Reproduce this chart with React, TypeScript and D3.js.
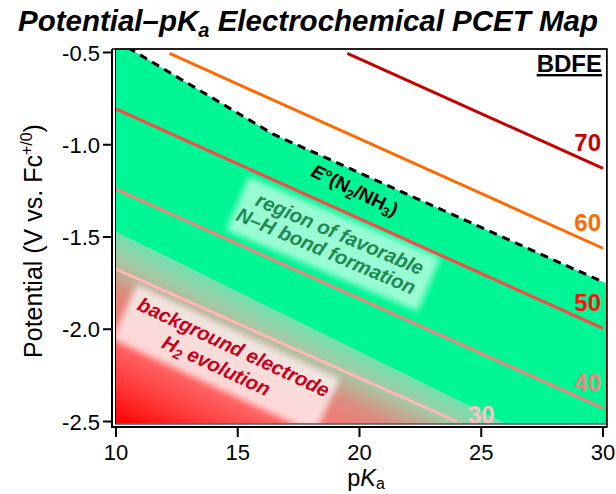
import React from "react";
import * as d3 from "d3";

// axis ticks
const pkaTicks = [10, 15, 20, 25, 30];
const potentialTicks = [-0.5, -1.0, -1.5, -2.0, -2.5];

// BDFE isolines (kcal/mol), endpoints
const bdfeValues = [30, 40, 50, 60, 70];
const bdfeStartPka = [10, 10, 10, 12.2, 19.5];
const bdfeStartE = [-1.674, -1.24, -0.806, -0.505, -0.505];
const bdfeEndPka = [24.0, 30, 30, 30, 30];
const bdfeEndE = [-2.5, -2.428, -1.995, -1.561, -1.128];
const bdfeLineColors = ["#ffb8b8", "#f4837d", "#ff4545", "#ff6a00", "#c40000"];
const bdfeTextColors = ["#ffc2c2", "#f4837d", "#ff1010", "#ff6a00", "#c40000"];

// E°(N2/NH3) vs pKa (dashed line, top of the green region)
const n2Pka = [10, 16.46, 30];
const n2E = [-0.435, -0.943, -1.744];

// edge of the background H2 evolution zone
const h2Pka = [10, 26];
const h2E = [-1.47, -2.51];

const FONT = "'Liberation Sans', Arial, Helvetica, sans-serif";
const GREEN = "#00f594";

const App = () => {
  const x = d3.scaleLinear().domain([10, 30]).range([116, 603]);
  const y = d3.scaleLinear().domain([-0.5, -2.5]).range([52.5, 421.5]);

  const plotL = x(10);
  const plotR = 606.5;
  const plotT = 49;
  const plotB = 423.5;

  const line = d3.line<[number, number]>();

  // green region under the dashed line
  const n2Pts: [number, number][] = n2Pka.map((p, i) => [x(p), y(n2E[i])]);
  const last = n2Pts[n2Pts.length - 1];
  const greenPts: [number, number][] = [
    ...n2Pts,
    [plotR, last[1] + 1.5],
    [plotR, plotB],
    [plotL, plotB],
  ];

  // red background zone and its gradient (perpendicular to the edge)
  const p0: [number, number] = [x(h2Pka[0]), y(h2E[0])];
  const p1: [number, number] = [x(h2Pka[1]), y(h2E[1])];
  const len = Math.hypot(p1[0] - p0[0], p1[1] - p0[1]);
  const dx = (p1[0] - p0[0]) / len;
  const dy = (p1[1] - p0[1]) / len;
  const nx = dy;
  const ny = -dx;
  const corner: [number, number] = [plotL, plotB];
  const dist = (p0[0] - corner[0]) * nx + (p0[1] - corner[1]) * ny;
  const gEnd = [corner[0] + nx * dist, corner[1] + ny * dist];
  const redPts: [number, number][] = [p0, [p1[0], plotB], corner];

  return (
    <svg width={616} height={494} style={{ display: "block", position: "absolute", left: 0, top: 0 }} fontFamily={FONT}>
      <defs>
        <clipPath id="plotClip">
          <rect x={plotL} y={plotT} width={plotR - plotL} height={plotB - plotT} />
        </clipPath>
        <linearGradient id="h2grad" gradientUnits="userSpaceOnUse" x1={corner[0]} y1={corner[1]} x2={gEnd[0]} y2={gEnd[1]}>
          <stop offset="0" stopColor="#ff0000" />
          <stop offset="0.25" stopColor="#ff4040" />
          <stop offset="0.47" stopColor="#ff6e6e" />
          <stop offset="0.7" stopColor="#dc8c80" />
          <stop offset="0.86" stopColor="#a6c8a4" />
          <stop offset="1" stopColor="#6ee2b0" />
        </linearGradient>
        <filter id="soft" x="-20%" y="-40%" width="140%" height="180%">
          <feGaussianBlur stdDeviation="3" />
        </filter>
      </defs>

      {/* title */}
      <text x={18} y={31} fontSize={29.5} fontWeight="bold" fontStyle="italic" fill="#000">
        Potential–pK<tspan dy={6} fontSize={20}>a</tspan>
        <tspan dy={-6}> Electrochemical PCET Map</tspan>
      </text>

      <g clipPath="url(#plotClip)">
        <rect x={plotL} y={plotT} width={plotR - plotL} height={plotB - plotT} fill="#fff" />
        <path d={line(greenPts) + "Z"} fill={GREEN} />
        <path d={line(redPts) + "Z"} fill="url(#h2grad)" />

        {/* label backdrops */}
        <g transform="translate(333,245) rotate(23)">
          <rect x={-104} y={-30} width={208} height={58} fill="#fff" opacity={0.6} filter="url(#soft)" />
        </g>
        <g transform="translate(226,359) rotate(25)">
          <rect x={-112} y={-30} width={224} height={60} fill="#fff" opacity={0.72} filter="url(#soft)" />
        </g>

        {bdfeValues.map((v, i) => (
          <line
            key={v}
            x1={x(bdfeStartPka[i])}
            y1={y(bdfeStartE[i])}
            x2={x(bdfeEndPka[i])}
            y2={y(bdfeEndE[i])}
            stroke={bdfeLineColors[i]}
            strokeWidth={3}
          />
        ))}

        <path d={line(n2Pts) ?? ""} fill="none" stroke="#000" strokeWidth={3} strokeDasharray="8,6" />
      </g>

      {/* BDFE labels */}
      {bdfeValues.map((v, i) =>
        i === 0 ? (
          <text key={v} x={x(bdfeEndPka[i]) + 11} y={plotB - 1} fontSize={24} fontWeight="bold" fill={bdfeTextColors[i]}>
            {v}
          </text>
        ) : (
          <text key={v} x={601} y={y(bdfeEndE[i]) - 17} textAnchor="end" fontSize={24} fontWeight="bold" fill={bdfeTextColors[i]}>
            {v}
          </text>
        )
      )}
      <text x={602} y={72} textAnchor="end" fontSize={24} fontWeight="bold" textDecoration="underline" fill="#000">
        BDFE
      </text>

      {/* region labels */}
      <g transform="translate(352,196) rotate(26)">
        <text textAnchor="middle" fontSize={19} fontWeight="bold" fill="#000">
          <tspan fontStyle="italic">E</tspan>°(N<tspan dy={4} fontSize={13}>2</tspan>
          <tspan dy={-4}>/NH</tspan>
          <tspan dy={4} fontSize={13}>3</tspan>
          <tspan dy={-4}>)</tspan>
        </text>
      </g>
      <g transform="translate(333,245) rotate(23)" fontSize={20} fontWeight="bold" fontStyle="italic" fill="#1f8a52" textAnchor="middle">
        <text x={2} y={-6}>region of favorable</text>
        <text x={-4} y={15}>N–H bond formation</text>
      </g>
      <g transform="translate(226,359) rotate(25)" fontSize={20} fontWeight="bold" fontStyle="italic" fill="#c8001a" textAnchor="middle">
        <text x={2} y={-7}>background electrode</text>
        <text x={-6} y={17}>
          H<tspan dy={4} fontSize={14}>2</tspan>
          <tspan dy={-4}> evolution</tspan>
        </text>
      </g>

      {/* frame */}
      <rect x={plotL - 0.5} y={plotT} width={plotR - plotL + 0.5} height={plotB - plotT + 0.5} fill="none" stroke="#000" strokeWidth={1} />
      <line x1={112} y1={plotT} x2={112} y2={427} stroke="#000" strokeWidth={2} />
      <line x1={111} y1={427} x2={607.5} y2={427} stroke="#000" strokeWidth={2} />
      <line x1={607} y1={plotT - 0.5} x2={607} y2={427} stroke="#000" strokeWidth={1.5} />
      <line x1={112} y1={plotT} x2={607.5} y2={plotT} stroke="#000" strokeWidth={1.5} />

      {/* y axis */}
      {potentialTicks.map((t) => (
        <g key={t}>
          <line x1={103} y1={y(t)} x2={112} y2={y(t)} stroke="#000" strokeWidth={2} />
          <text x={100} y={y(t) + 8} textAnchor="end" fontSize={22} fill="#000">
            {t.toFixed(1)}
          </text>
        </g>
      ))}
      {/* x axis */}
      {pkaTicks.map((t) => (
        <g key={t}>
          <line x1={x(t)} y1={427} x2={x(t)} y2={437} stroke="#000" strokeWidth={2} />
          <text x={x(t)} y={460} textAnchor="middle" fontSize={22} fill="#000">
            {t}
          </text>
        </g>
      ))}

      <text x={366} y={486} textAnchor="middle" fontSize={23.5} fill="#000">
        p<tspan fontStyle="italic">K</tspan>
        <tspan dy={3} fontSize={16}>a</tspan>
      </text>
      <text transform="translate(42,241) rotate(-90)" textAnchor="middle" fontSize={25} fill="#000">
        Potential (V vs. Fc<tspan dy={-10} fontSize={16}>+/0</tspan>
        <tspan dy={10}>)</tspan>
      </text>
    </svg>
  );
};

export default App;
